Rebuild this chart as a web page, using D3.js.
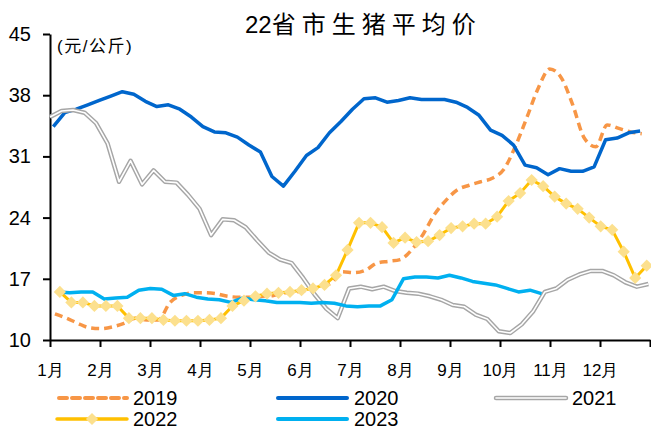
<!DOCTYPE html>
<html>
<head>
<meta charset="utf-8">
<script src="https://cdn.jsdelivr.net/npm/d3@7/dist/d3.min.js"></script>
<style>
  body { margin: 0; background: #fff; }
  svg { display: block; font-family: "Liberation Sans", Arial, "Noto Sans CJK SC", sans-serif; }
</style>
</head>
<body>
<svg id="chart"></svg>
<script>
var width = 651;
var height = 430;
var margin = { top: 34, left: 50, bottom: 90, right: 1 };

// 月份和刻度
var months = ["1月", "2月", "3月", "4月", "5月", "6月", "7月", "8月", "9月", "10月", "11月", "12月"];
var yTicks = [10, 17, 24, 31, 38, 45];
var years = ["2019", "2020", "2021", "2022", "2023"];
// 每年第一个周五（周度数据）
var firstDates = ["2019-01-04", "2020-01-03", "2021-01-01", "2022-01-07", "2023-01-06"];

var price2019 = [13.0, 12.5, 11.9, 11.4, 11.3, 11.5, 11.9, 12.5, 12.3, 12.3, 14.3, 15.1, 15.4, 15.4, 15.3, 15.0,
  14.9, 14.9, 15.0, 15.1, 15.4, 15.5, 15.7, 16.1, 16.5, 17.8, 17.7, 18.0, 18.8, 19.0, 19.2, 20.3,
  22.1, 24.4, 26.0, 27.2, 27.7, 28.1, 28.5, 29.5, 32.1, 35.4, 38.8, 41.0, 40.0, 36.9, 33.1, 32.1,
  34.6, 34.2, 33.8, 33.6];
var price2020 = [34.4, 36.0, 36.4, 36.9, 37.4, 37.9, 38.4, 38.1, 37.3, 36.7, 36.9, 36.4, 35.5, 34.4, 33.8, 33.7,
  33.2, 32.3, 31.5, 28.7, 27.6, 29.3, 31.1, 32.0, 33.7, 35.0, 36.4, 37.6, 37.7, 37.2, 37.4, 37.7,
  37.5, 37.5, 37.5, 37.2, 36.6, 35.7, 34.0, 33.4, 32.3, 30.0, 29.7, 28.9, 29.6, 29.3, 29.3, 29.8,
  32.9, 33.1, 33.7, 33.9];
var price2021 = [35.5, 36.2, 36.3, 36.0, 34.8, 32.5, 28.1, 30.5, 27.8, 29.4, 28.1, 28.0, 26.6, 25.0, 22.0, 23.8,
  23.7, 22.9, 21.4, 20.0, 19.2, 18.8, 17.1, 15.2, 13.6, 12.5, 15.9, 16.1, 15.8, 16.1, 15.6, 15.4,
  15.3, 15.0, 14.6, 14.0, 13.8, 12.9, 12.4, 11.0, 10.8, 11.8, 13.3, 15.5, 15.9, 16.9, 17.5, 17.9,
  17.9, 17.4, 16.6, 16.1, 16.4];
var price2022 = [15.5, 14.3, 14.3, 13.9, 13.9, 13.9, 12.5, 12.5, 12.5, 12.3, 12.2, 12.2, 12.2, 12.3, 12.5, 13.9,
  14.5, 15.0, 15.3, 15.4, 15.5, 15.7, 15.9, 16.3, 17.4, 20.3, 23.4, 23.4, 22.9, 21.1, 21.7, 21.2,
  21.3, 22.0, 22.8, 23.0, 23.3, 23.3, 24.1, 25.9, 26.8, 28.3, 27.6, 26.4, 25.6, 25.0, 24.0, 23.0,
  22.6, 20.1, 17.1, 18.5];
var price2023 = [15.5, 15.4, 15.5, 15.5, 14.7, 14.8, 14.9, 15.7, 15.9, 15.8, 15.1, 15.3, 14.9, 14.7, 14.6, 14.3,
  14.8, 14.6, 14.5, 14.3, 14.3, 14.3, 14.2, 14.3, 14.2, 13.9, 13.8, 13.9, 13.9, 14.6, 17.0, 17.2,
  17.2, 17.1, 17.4, 17.1, 16.7, 16.5, 16.3, 15.9, 15.5, 15.7, 15.3];

var prices = [price2019, price2020, price2021, price2022, price2023];

var svg = d3.select("#chart")
  .attr("width", width)
  .attr("height", height)
  .attr("viewBox", [0, 0, width, height]);

// 比例尺
var x = d3.scaleLinear().domain([0, 365]).range([margin.left, width - margin.right]);
var xMonth = d3.scaleLinear().domain([0, 12]).range([margin.left, width - margin.right]);
var y = d3.scaleLinear().domain([10, 45]).range([height - margin.bottom, margin.top]);

var parse = d3.timeParse("%Y-%m-%d");
// 把每周数据转成 [一年中的第几天, 价格]
var series = years.map(function (yr, k) {
  var start = parse(firstDates[k]);
  var pts = prices[k].map(function (v, i) {
    var dt = d3.timeDay.offset(start, 7 * i);
    return { day: d3.timeDay.count(d3.timeYear(dt), dt), value: v };
  });
  return { year: yr, points: pts };
});

// 标题
var title = svg.append("text")
  .attr("x", 245)
  .attr("y", 33)
  .attr("font-size", "24px")
  .attr("fill", "#000");
title.append("tspan").text("22");
title.append("tspan").attr("letter-spacing", "6px").text("省市生猪平均价");

svg.append("text")
  .attr("x", 57)
  .attr("y", 52)
  .attr("font-size", "17px")
  .attr("letter-spacing", "1.5px")
  .text("(元/公斤)");

// 坐标轴
var yAxis = svg.append("g")
  .attr("transform", "translate(" + margin.left + ",0)")
  .call(d3.axisLeft(y).tickValues(yTicks).tickSize(7).tickSizeOuter(0).tickPadding(12));
yAxis.selectAll("text").attr("font-size", "20px").attr("fill", "#000");

var xAxis = svg.append("g")
  .attr("transform", "translate(0," + (height - margin.bottom) + ")")
  .call(d3.axisBottom(xMonth).tickValues(d3.range(13)).tickSize(7).tickSizeOuter(0).tickPadding(17)
    .tickFormat(function (d) { return months[d] || ""; }));
xAxis.selectAll("text").attr("font-size", "17px").attr("fill", "#000");

svg.selectAll(".domain, .tick line").attr("stroke", "#000").attr("stroke-width", 2);

// 线条
var line = d3.line().x(function (d) { return x(d.day); }).y(function (d) { return y(d.value); });
var smooth = d3.line().curve(d3.curveMonotoneX).x(function (d) { return x(d.day); }).y(function (d) { return y(d.value); });

var g = svg.append("g").attr("fill", "none").attr("stroke-linejoin", "round");

// 2019 橙色虚线
g.append("path")
  .attr("d", smooth(series[0].points))
  .attr("stroke", "#F79646")
  .attr("stroke-width", 3.5)
  .attr("stroke-dasharray", "8,5");

// 2020 深蓝
g.append("path")
  .attr("d", line(series[1].points))
  .attr("stroke", "#0066CC")
  .attr("stroke-width", 3.5);

// 2021 灰色双线
g.append("path")
  .attr("d", line(series[2].points))
  .attr("stroke", "#A6A6A6")
  .attr("stroke-width", 4.5);
g.append("path")
  .attr("d", line(series[2].points))
  .attr("stroke", "#fff")
  .attr("stroke-width", 1.6);

// 2022 黄线 + 菱形
g.append("path")
  .attr("d", line(series[3].points))
  .attr("stroke", "#FFC000")
  .attr("stroke-width", 3);
svg.append("g").selectAll("path")
  .data(series[3].points)
  .join("path")
  .attr("transform", function (d) { return "translate(" + x(d.day) + "," + y(d.value) + ")"; })
  .attr("d", d3.symbol(d3.symbolDiamond2, 95))
  .attr("fill", "#FCE08E");

// 2023 浅蓝
g.append("path")
  .attr("d", line(series[4].points))
  .attr("stroke", "#00B0F0")
  .attr("stroke-width", 3.5);

// 图例
var legendPos = [[57, 398], [278, 398], [496, 398], [57, 419], [278, 419]];
var legend = svg.append("g");
years.forEach(function (yr, k) {
  var lx = legendPos[k][0], ly = legendPos[k][1];
  var item = legend.append("g").attr("transform", "translate(" + lx + "," + ly + ")");
  if (k == 0) {
    item.append("line").attr("x1", 2).attr("x2", 70).attr("stroke", "#F79646")
      .attr("stroke-width", 4).attr("stroke-dasharray", "8,5").attr("stroke-linecap", "round");
  } else if (k == 1) {
    item.append("line").attr("x1", 0).attr("x2", 69).attr("stroke", "#0066CC")
      .attr("stroke-width", 4).attr("stroke-linecap", "round");
  } else if (k == 2) {
    item.append("line").attr("x1", 0).attr("x2", 70).attr("stroke", "#A6A6A6")
      .attr("stroke-width", 4.5).attr("stroke-linecap", "round");
    item.append("line").attr("x1", 0).attr("x2", 70).attr("stroke", "#fff")
      .attr("stroke-width", 1.6).attr("stroke-linecap", "round");
  } else if (k == 3) {
    item.append("line").attr("x1", 0).attr("x2", 70).attr("stroke", "#FFC000")
      .attr("stroke-width", 3.5).attr("stroke-linecap", "round");
    item.append("path").attr("transform", "translate(35,0)")
      .attr("d", d3.symbol(d3.symbolDiamond2, 95)).attr("fill", "#FCE08E");
  } else {
    item.append("line").attr("x1", 0).attr("x2", 69).attr("stroke", "#00B0F0")
      .attr("stroke-width", 4).attr("stroke-linecap", "round");
  }
  item.append("text")
    .attr("x", 76)
    .attr("y", 7)
    .attr("font-size", "20px")
    .attr("fill", "#000")
    .text(yr);
});
</script>
</body>
</html>
